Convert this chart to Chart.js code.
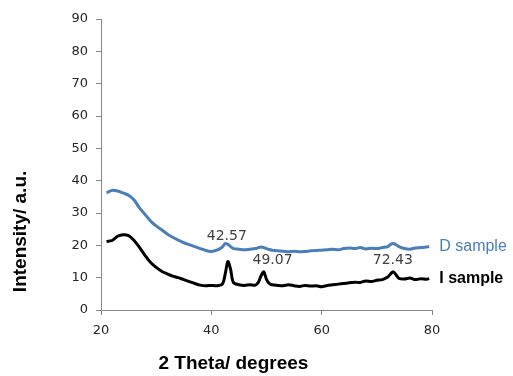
<!DOCTYPE html>
<html lang="en">
<head>
    <meta charset="UTF-8">
    <title>XRD patterns</title>
    <script src="https://cdn.jsdelivr.net/npm/chart.js"></script>
    <style>
        body {
            margin: 0;
            background: #ffffff;
        }
        #wrap {
            width: 513px;
            height: 376px;
        }
    </style>
</head>
<body>
    <div id="wrap"><canvas id="xrd"></canvas></div>

    <script>
        // 2 theta positions (degrees)
        const angles = [21, 22, 23, 24, 25, 26, 27, 28, 29, 30, 31, 32, 33, 34, 35, 36, 37, 38, 39, 40,
            41, 42, 42.5, 43, 43.5, 44, 45, 46, 47, 48, 48.5, 49, 49.5, 50, 50.5, 51, 52, 53, 54, 55,
            56, 57, 58, 59, 60, 61, 62, 63, 64, 65, 66, 67, 68, 69, 70, 71, 72, 72.5, 73, 73.5,
            74, 75, 76, 77, 78, 79, 79.5];

        // D sample intensity
        const dSample = [36.2, 37, 36.8, 36.2, 35.5, 34, 31.5, 29.5, 27.5, 26, 24.8, 23.5, 22.5, 21.6, 20.8, 20.2, 19.6, 19, 18.4, 18.1,
            18.5, 19.5, 20.5, 20.3, 19.6, 19, 18.8, 18.6, 18.8, 19, 19.3, 19.5, 19.3, 19, 18.7, 18.5, 18.3, 18.2, 18, 18.2,
            18, 18.1, 18.3, 18.4, 18.5, 18.6, 18.8, 18.6, 19, 19.2, 19, 19.3, 18.9, 19.1, 19, 19.3, 19.6, 20.3, 20.6, 20.2,
            19.6, 19, 18.8, 19.2, 19.3, 19.5, 19.6];

        // I sample intensity
        const iSample = [21.2, 21.5, 22.8, 23.3, 23, 21.5, 19.3, 16.8, 14.7, 13.2, 12, 11.2, 10.5, 10, 9.4, 8.8, 8.2, 7.7, 7.5, 7.6,
            7.5, 8, 11, 15, 12.5, 8.5, 7.8, 7.6, 7.8, 7.7, 8.5, 10.5, 11.8, 9.5, 8.2, 7.8, 7.6, 7.5, 7.8, 7.5,
            7.3, 7.6, 7.4, 7.5, 7.2, 7.6, 7.8, 8, 8.2, 8.4, 8.6, 8.5, 9, 8.8, 9.2, 9.4, 10.2, 11.2, 11.8, 10.8,
            9.8, 9.6, 9.9, 9.4, 9.7, 9.5, 9.7];

        const seriesNames = ['D sample', 'I sample'];
        const seriesColors = ['#4a7ebb', '#000000'];

        // peak labels and where they sit (data units)
        const peakLabels = ['42.57', '49.07', '72.43'];
        const peakLabelX = [42.8, 51.1, 72.9];
        const peakLabelY = [22.9, 15.5, 15.5];

        const toPoints = vals => vals.map((v, i) => ({ x: angles[i], y: v }));

        const titleFont = 'bold 19px "Liberation Sans", Arial, sans-serif';

        // text labels drawn on top of the plot
        const labelPlugin = {
            id: 'labels',
            afterDatasetsDraw(chart) {
                const { ctx, scales: { x, y }, chartArea } = chart;
                ctx.save();
                ctx.textBaseline = 'middle';

                ctx.fillStyle = '#404040';
                ctx.textAlign = 'center';
                ctx.font = '14px "DejaVu Sans", sans-serif';
                peakLabels.forEach((t, i) => {
                    ctx.fillText(t, x.getPixelForValue(peakLabelX[i]), y.getPixelForValue(peakLabelY[i]));
                });

                // series names at line ends
                ctx.textAlign = 'left';
                const series = [dSample, iSample];
                series.forEach((vals, i) => {
                    const last = vals.length - 1;
                    ctx.fillStyle = seriesColors[i];
                    ctx.font = (i === 1 ? 'bold ' : '') + '16px "Liberation Sans", Arial, sans-serif';
                    ctx.fillText(seriesNames[i], x.getPixelForValue(angles[last]) + 10, y.getPixelForValue(vals[last]));
                });

                // axis titles
                ctx.fillStyle = '#000000';
                ctx.textAlign = 'center';
                ctx.font = titleFont;
                ctx.fillText('2 Theta/ degrees', chartArea.left + chartArea.width * 0.4, 364);

                ctx.translate(21, chartArea.top + chartArea.height * 0.73);
                ctx.rotate(-Math.PI / 2);
                ctx.fillText('Intensity/ a.u.', 0, 0);
                ctx.restore();
            }
        };

        const ctx = document.getElementById('xrd').getContext('2d');

        new Chart(ctx, {
            type: 'line',
            data: {
                datasets: [
                    {
                        label: seriesNames[0],
                        data: toPoints(dSample),
                        borderColor: seriesColors[0],
                        borderWidth: 3,
                        pointRadius: 0,
                        tension: 0.3,
                        fill: false,
                    },
                    {
                        label: seriesNames[1],
                        data: toPoints(iSample),
                        borderColor: seriesColors[1],
                        borderWidth: 3,
                        pointRadius: 0,
                        tension: 0.3,
                        fill: false,
                    },
                ],
            },
            options: {
                responsive: true,
                maintainAspectRatio: false,
                animation: false,
                layout: {
                    padding: { top: 19, right: 81, left: 0, bottom: 0 },
                },
                plugins: {
                    legend: { display: false },
                    tooltip: { enabled: false },
                },
                scales: {
                    x: {
                        type: 'linear',
                        min: 20,
                        max: 80,
                        ticks: {
                            stepSize: 20,
                            color: '#262626',
                            padding: 8,
                            font: { family: '"DejaVu Sans", sans-serif', size: 13 },
                        },
                        grid: {
                            drawOnChartArea: false,
                            color: '#868686',
                            tickLength: 5,
                        },
                        border: { color: '#868686', width: 1 },
                        afterFit: s => { s.height = 66; },
                    },
                    y: {
                        min: 0,
                        max: 90,
                        ticks: {
                            stepSize: 10,
                            color: '#262626',
                            padding: 8,
                            font: { family: '"DejaVu Sans", sans-serif', size: 13 },
                        },
                        grid: {
                            drawOnChartArea: false,
                            color: '#868686',
                            tickLength: 5,
                        },
                        border: { color: '#868686', width: 1 },
                        afterFit: s => { s.width = 101; },
                    },
                },
            },
            plugins: [labelPlugin],
        });
    </script>
</body>
</html>
